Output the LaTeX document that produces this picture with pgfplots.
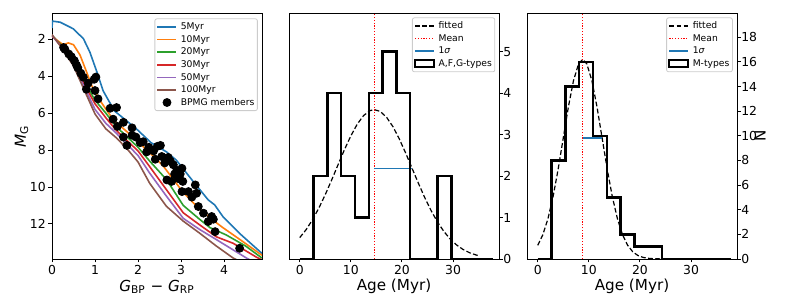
\documentclass[border=0pt]{standalone}
\usepackage{fontspec}
\setmainfont{DejaVu Sans}
\usepackage{pgfplots}
\pgfplotsset{compat=1.18}
\definecolor{c0}{HTML}{1F77B4}
\definecolor{c1}{HTML}{FF7F0E}
\definecolor{c2}{HTML}{2CA02C}
\definecolor{c3}{HTML}{D62728}
\definecolor{c4}{HTML}{9467BD}
\definecolor{c5}{HTML}{8C564B}
\begin{document}
\begin{tikzpicture}
\useasboundingbox (0pt,0pt) rectangle (394.5pt,154pt);
\pgfplotsset{
 every axis/.append style={
  scale only axis, width=105pt, height=123pt, anchor=south west,
  axis line style={line width=0.45pt},
  every tick/.style={line width=0.45pt, black},
  major tick length=1.75pt,
  tick align=outside,
  tick label style={font=\fontsize{6.2}{7}\selectfont, inner sep=1.2pt},
  every axis x label/.style={at={(axis description cs:0.5,-0.112)}, anchor=center, font=\fontsize{7.6}{8}\selectfont},
  /pgf/number format/assume math mode=true,
  legend style={font=\fontsize{4.6}{5}\selectfont, draw=black!20, rounded corners=1pt, inner sep=0.9pt, row sep=0pt, column sep=1.2pt,
     nodes={inner sep=0.6pt, text height=3.9pt, text depth=1.2pt}},
  legend cell align=left,
  legend image code/.code={\draw[#1, sharp corners] (0pt,0pt) -- (9.5pt,0pt);},
 }
}
% ---------------- Panel 1 -----------------
\begin{axis}[at={(26pt,24.5pt)},
  xmin=0, xmax=4.88, ymin=0.58, ymax=13.9, y dir=reverse,
  xtick={0,1,2,3,4}, ytick={2,4,6,8,10,12},
  xtick pos=bottom, ytick pos=left,
  xlabel={\textit{G}\textsubscript{BP} − \textit{G}\textsubscript{RP}},
  ylabel={\textit{M}\textsubscript{G}},
  every axis y label/.style={at={(axis description cs:-0.145,0.5)}, rotate=90, anchor=center, font=\fontsize{7.6}{8}\selectfont},
  legend style={at={(0.98,0.978)}, anchor=north east}]
\addplot[c0, line width=0.8pt] coordinates {
(0,1.4)(0.01,1.02)(0.19,1.08)(0.49,1.43)(0.73,1.97)(0.88,2.7)(1.04,3.75)(1.19,4.8)(1.31,5.3)(1.46,5.9)(1.96,6.85)(2.3,7.6)(2.66,8.1)(2.89,8.55)(3.28,9.7)(3.63,10.7)(3.78,10.97)(3.97,11.6)(4.4,12.6)(4.88,13.6)};
\addlegendentry{5Myr}
\addplot[c1, line width=0.8pt] coordinates {
(0,1.85)(0.26,2.3)(0.38,2.2)(0.5,2.3)(0.65,2.85)(0.8,3.75)(0.92,4.5)(1.11,5.3)(1.42,6.35)(1.81,7.15)(2.27,8.15)(2.58,8.85)(3.05,10.3)(3.43,11.2)(3.74,11.8)(3.97,12.2)(4.4,12.9)(4.88,13.7)};
\addlegendentry{10Myr}
\addplot[c2, line width=0.8pt] coordinates {
(0,1.8)(0.25,2.4)(0.5,3.2)(0.75,4.3)(1.0,5.3)(1.25,6.0)(1.5,6.75)(1.75,7.3)(2.0,7.85)(2.27,8.6)(2.66,9.6)(3.05,11.0)(3.43,11.75)(3.67,12.2)(4.05,12.6)(4.5,13.2)(4.88,13.85)};
\addlegendentry{20Myr}
\addplot[c3, line width=0.8pt] coordinates {
(0,1.8)(0.25,2.45)(0.5,3.3)(0.75,4.45)(1.0,5.5)(1.25,6.25)(1.5,6.95)(1.75,7.5)(2.0,8.05)(2.27,8.9)(2.66,10.15)(3.05,11.4)(3.43,12.05)(3.82,12.7)(4.21,13.05)(4.75,13.8)(4.88,13.95)};
\addlegendentry{30Myr}
\addplot[c4, line width=0.8pt] coordinates {
(0,1.8)(0.25,2.5)(0.5,3.35)(0.75,4.6)(1.0,5.8)(1.25,6.55)(1.5,7.1)(1.75,7.7)(2.0,8.3)(2.27,9.25)(2.66,10.5)(3.05,11.7)(3.43,12.3)(3.82,12.85)(4.52,13.85)(4.6,13.95)};
\addlegendentry{50Myr}
\addplot[c5, line width=0.8pt] coordinates {
(0,1.75)(0.25,2.55)(0.5,3.45)(0.75,4.75)(1.0,6.05)(1.25,6.85)(1.5,7.35)(1.75,7.95)(2.0,8.65)(2.27,9.8)(2.66,11.05)(3.05,11.85)(3.43,12.5)(3.82,13.2)(4.21,13.85)(4.3,13.95)};
\addlegendentry{100Myr}
\addplot[only marks, mark=*, mark size=2pt, black,
  legend image code/.code={\fill[black] (4.75pt,0pt) circle (2pt);}] coordinates {
(0.27,2.45)(0.30,2.55)(0.39,2.80)(0.45,2.95)(0.52,3.16)(0.57,3.40)(0.60,3.55)(0.67,3.84)(0.73,4.06)(0.80,4.71)(0.84,4.38)(0.98,4.17)(1.02,4.05)(1.00,4.78)(1.07,5.23)(1.35,5.74)(1.50,5.70)(1.42,6.33)(1.52,6.72)(1.66,6.50)(1.86,6.80)(1.66,7.30)(1.74,7.75)(1.86,7.20)(1.95,7.30)(2.05,7.60)(2.12,7.55)(2.20,8.10)(2.25,7.85)(2.36,8.05)(2.45,7.80)(2.52,7.75)(2.40,8.50)(2.55,8.35)(2.62,8.70)(2.70,8.40)(2.75,8.60)(2.82,8.80)(2.67,9.62)(2.90,9.10)(2.78,9.70)(2.94,9.55)(3.02,8.99)(2.98,9.30)(2.85,9.30)(3.04,9.70)(3.02,10.25)(3.17,10.25)(3.25,10.55)(3.33,9.89)(3.36,10.34)(3.40,11.06)(3.52,11.42)(3.63,11.87)(3.71,11.60)(3.75,11.75)(3.79,12.42)(4.36,13.32)};
\addlegendentry{BPMG members}
\end{axis}
% ---------------- Panel 2 -----------------
\begin{axis}[at={(144.5pt,24.5pt)},
  xmin=-2.1, xmax=39.0, ymin=0, ymax=5.93,
  xtick={0,10,20,30}, ytick={0,1,2,3,4,5},
  xtick pos=bottom, ytick pos=right, yticklabel pos=right,
  yticklabel style={xshift=-1pt},
  xlabel={Age (Myr)},
  legend style={at={(0.982,0.982)}, anchor=north east}]
\addplot[black, line width=0.6pt, dash pattern=on 2.4pt off 1.2pt] coordinates {
(0,0.514)(1.25,0.707)(2.5,0.946)(3.75,1.229)(5,1.552)(6.25,1.905)(7.5,2.272)(8.75,2.634)(10,2.967)(11.25,3.249)(12.5,3.458)(13.75,3.576)(14.6,3.6)(15.75,3.557)(17,3.416)(18.25,3.188)(19.5,2.891)(20.75,2.549)(22,2.183)(23.25,1.818)(24.5,1.471)(25.75,1.157)(27,0.884)(28.25,0.657)(29.5,0.474)(30.75,0.333)(32,0.227)(33.25,0.150)(34.5,0.097)(35,0.081)};
\addlegendentry{fitted}
\addplot[red, line width=0.6pt, dash pattern=on 0.6pt off 0.8pt] coordinates {(14.6,0)(14.6,5.93)};
\addlegendentry{Mean}
\addplot[c0, line width=0.7pt] coordinates {(14.6,2.183)(22.0,2.183)};
\addlegendentry{1\textit{σ}}
\addplot[black, line width=1.2pt, const plot, line join=miter,
  legend image code/.code={\draw[black, line width=0.9pt, fill=white, sharp corners] (0pt,-1.6pt) rectangle (9.5pt,1.8pt);}] coordinates {
(0,0)(2.7,2)(5.4,4)(8.1,2)(10.8,1)(13.5,4)(16.2,5)(18.9,4)(21.6,0)(24.3,0)(27.0,2)(29.7,0)(37.8,0)};
\addlegendentry{A,F,G-types}
\end{axis}
% ---------------- Panel 3 -----------------
\begin{axis}[at={(263.5pt,24.5pt)},
  xmin=-2.1, xmax=39.0, ymin=0, ymax=19.97,
  xtick={0,10,20,30}, ytick={0,2,...,18},
  xtick pos=bottom, ytick pos=right, yticklabel pos=right,
  yticklabel style={xshift=-1pt},
  xlabel={Age (Myr)}, ylabel={N},
  every axis y label/.style={at={(axis description cs:1.11,0.5)}, rotate=90, anchor=center, font=\fontsize{7.6}{8}\selectfont},
  legend style={at={(0.98,0.982)}, anchor=north east}]
\addplot[black, line width=0.6pt, dash pattern=on 2.4pt off 1.2pt] coordinates {
(0,1.109)(1,1.970)(2,3.268)(3,5.054)(4,7.295)(5,9.826)(6,12.35)(7,14.48)(8,15.85)(8.8,16.2)(9.6,15.85)(10.6,14.48)(11.6,12.35)(12.6,9.826)(13.6,7.295)(14.6,5.054)(15.6,3.268)(16.6,1.970)(17.6,1.109)(18.6,0.582)(19.6,0.285)(20.6,0.131)(21.6,0.056)(23,0.015)(26,0.001)(35,0)};
\addlegendentry{fitted}
\addplot[red, line width=0.6pt, dash pattern=on 0.6pt off 0.8pt] coordinates {(8.8,0)(8.8,19.97)};
\addlegendentry{Mean}
\addplot[c0, line width=0.7pt] coordinates {(8.8,9.826)(12.6,9.826)};
\addlegendentry{1\textit{σ}}
\addplot[black, line width=1.2pt, const plot, line join=miter,
  legend image code/.code={\draw[black, line width=0.9pt, fill=white, sharp corners] (0pt,-1.6pt) rectangle (9.5pt,1.8pt);}] coordinates {
(0,0)(2.7,8)(5.4,14)(8.1,16)(10.8,10)(13.5,5)(16.2,2)(18.9,1)(21.6,1)(24.3,0)(37.8,0)};
\addlegendentry{M-types}
\end{axis}
\end{tikzpicture}
\end{document}
